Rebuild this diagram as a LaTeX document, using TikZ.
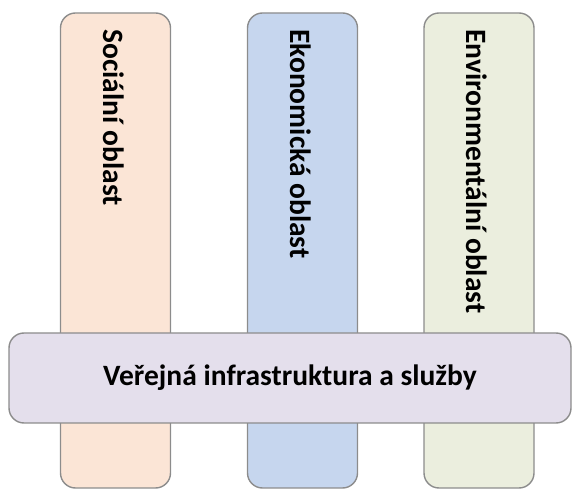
\documentclass[tikz,border=0pt]{standalone}
\usepackage{fontspec}
\setmainfont{Carlito}
\usepackage{tikz}
\usetikzlibrary{positioning}
\definecolor{socialfill}{HTML}{FBE5D6}
\definecolor{economicfill}{HTML}{C6D6EE}
\definecolor{environfill}{HTML}{EBEEDE}
\definecolor{servicefill}{HTML}{E4DFEC}
\definecolor{boxline}{HTML}{8C8C8C}

\begin{document}
\begin{tikzpicture}[x=1pt, y=1pt,
    on grid,
    pillar/.style={draw=boxline, line width=1.4pt, rounded corners=15pt,
      minimum width=110pt, minimum height=475pt, inner sep=0pt},
    pillartext/.style={rotate=-90, anchor=west, inner sep=0pt,
      font=\fontsize{29.5}{34}\selectfont\bfseries},
    crossbar/.style={draw=boxline, line width=1.4pt, rounded corners=15pt,
      fill=servicefill, minimum width=562pt, minimum height=90pt,
      font=\fontsize{29.5}{34}\selectfont\bfseries}]

  \useasboundingbox (0,0) rectangle (573,490);

  \node[pillar,fill=socialfill]
    (Social) at (115.5,239.5) {};
  \node[pillar,fill=economicfill]
    (Economic) [right=187pt of Social] {};
  \node[pillar,fill=environfill]
    (Environ) [right=176.5pt of Economic] {};

  \node[pillartext] (SocialText)   at ([xshift=-2pt,yshift=-17pt]Social.north)   {Sociální oblast};
  \node[pillartext] (EconomicText) at ([xshift=-2pt,yshift=-17pt]Economic.north) {Ekonomická oblast};
  \node[pillartext] (EnvironText)  at ([xshift=-2pt,yshift=-17pt]Environ.north)  {Environmentální oblast};

  \node[crossbar] (Services) at (290,112) {Veřejná infrastruktura a služby};

\end{tikzpicture}
\end{document}
